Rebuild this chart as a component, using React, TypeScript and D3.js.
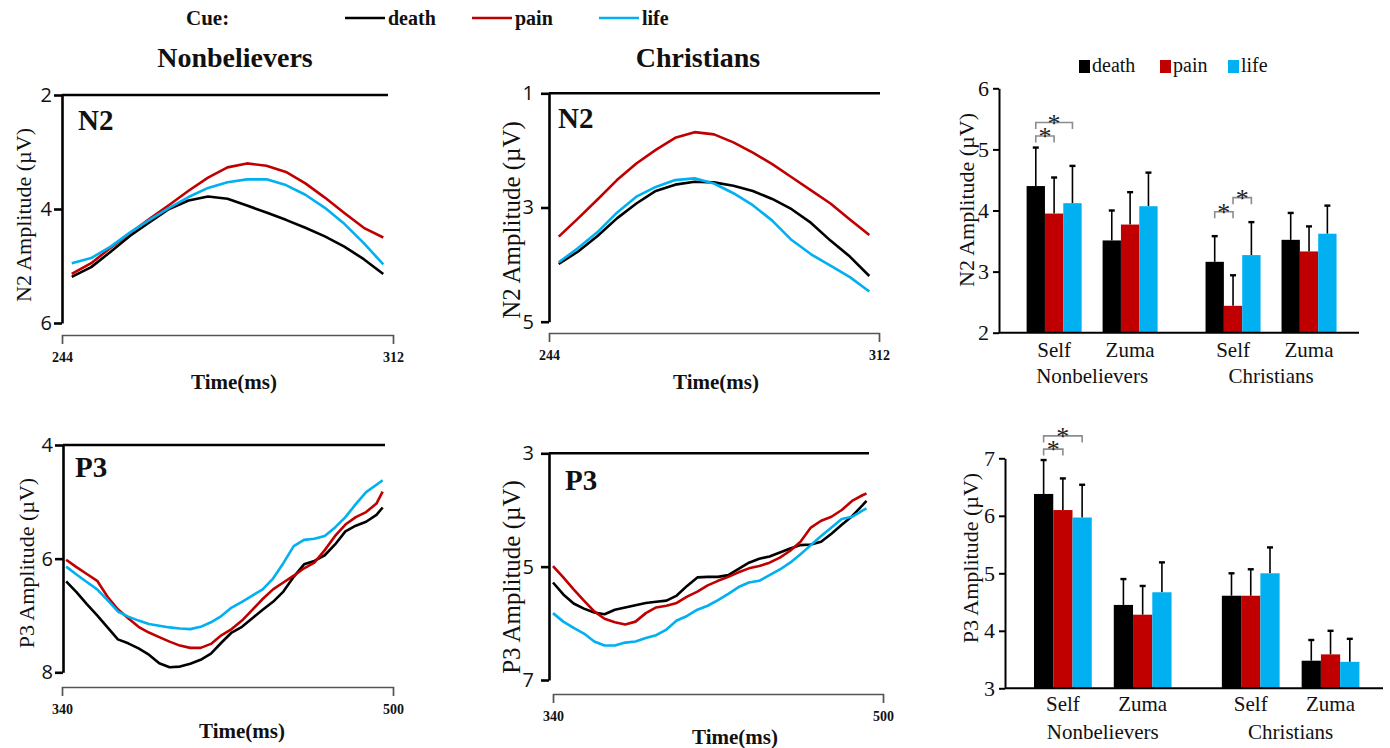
import React, { useEffect, useRef } from 'react';
import * as d3 from 'd3';

const cues = ['death', 'pain', 'life'];
const cueColors: Record<string, string> = { death: '#000000', pain: '#c00000', life: '#00b0f0' };

// N2 grand-average waveforms, 244-312 ms
const n2Time = [246, 250, 254, 258, 262, 266, 270, 274, 278, 282, 286, 290, 294, 298, 302, 306, 310];
const n2NonDeath = [5.19, 5.02, 4.75, 4.47, 4.23, 4.0, 3.85, 3.78, 3.82, 3.94, 4.06, 4.19, 4.33, 4.48, 4.66, 4.88, 5.14];
const n2NonPain = [5.14, 4.95, 4.68, 4.42, 4.17, 3.93, 3.68, 3.45, 3.27, 3.2, 3.24, 3.35, 3.55, 3.8, 4.07, 4.33, 4.5];
const n2NonLife = [4.95, 4.86, 4.66, 4.41, 4.19, 3.98, 3.79, 3.63, 3.53, 3.48, 3.48, 3.58, 3.75, 3.98, 4.26, 4.6, 4.97];
const n2ChrDeath = [3.99, 3.77, 3.5, 3.19, 2.93, 2.71, 2.6, 2.55, 2.56, 2.62, 2.71, 2.85, 3.03, 3.27, 3.58, 3.86, 4.2];
const n2ChrPain = [3.51, 3.19, 2.86, 2.52, 2.23, 1.99, 1.78, 1.68, 1.72, 1.86, 2.04, 2.24, 2.47, 2.7, 2.93, 3.21, 3.48];
const n2ChrLife = [3.96, 3.71, 3.43, 3.09, 2.81, 2.64, 2.52, 2.49, 2.58, 2.75, 2.96, 3.23, 3.57, 3.82, 4.02, 4.22, 4.47];

// P3 grand-average waveforms, 340-500 ms
const p3NonTime = [342, 347, 352, 357, 362, 367, 372, 377, 382, 387, 392, 397, 402, 407, 412, 417, 422, 427, 432, 437, 442, 447, 452, 457, 462, 467, 472, 477, 482, 487, 492, 495];
const p3NonDeath = [6.4, 6.59, 6.8, 7.0, 7.21, 7.42, 7.49, 7.58, 7.69, 7.84, 7.91, 7.9, 7.85, 7.78, 7.67, 7.48, 7.3, 7.2, 7.05, 6.9, 6.76, 6.58, 6.32, 6.1, 6.04, 5.94, 5.75, 5.52, 5.42, 5.35, 5.23, 5.1];
const p3NonPain = [6.02, 6.15, 6.27, 6.39, 6.67, 6.89, 7.05, 7.2, 7.3, 7.38, 7.46, 7.53, 7.57, 7.57, 7.5, 7.35, 7.24, 7.09, 6.9, 6.71, 6.54, 6.42, 6.3, 6.17, 6.07, 5.85, 5.6, 5.4, 5.27, 5.18, 5.03, 4.82];
const p3NonLife = [6.14, 6.28, 6.41, 6.54, 6.73, 6.93, 7.02, 7.09, 7.15, 7.18, 7.21, 7.23, 7.24, 7.2, 7.12, 7.01, 6.86, 6.76, 6.65, 6.54, 6.35, 6.08, 5.78, 5.67, 5.65, 5.6, 5.45, 5.27, 5.04, 4.83, 4.7, 4.62];
const p3ChrTime = [340, 345, 350, 355, 360, 365, 370, 375, 380, 385, 390, 395, 400, 405, 410, 415, 420, 425, 430, 435, 440, 445, 450, 455, 460, 465, 470, 475, 480, 485, 490, 492];
const p3ChrDeath = [5.28, 5.49, 5.65, 5.74, 5.81, 5.84, 5.76, 5.72, 5.68, 5.64, 5.62, 5.6, 5.51, 5.34, 5.19, 5.18, 5.18, 5.15, 5.04, 4.93, 4.86, 4.82, 4.75, 4.68, 4.62, 4.61, 4.56, 4.42, 4.26, 4.11, 3.92, 3.84];
const p3ChrPain = [4.99, 5.19, 5.4, 5.6, 5.79, 5.92, 5.98, 6.02, 5.97, 5.82, 5.72, 5.69, 5.64, 5.53, 5.44, 5.33, 5.25, 5.18, 5.1, 5.03, 4.99, 4.93, 4.84, 4.72, 4.56, 4.31, 4.19, 4.12, 4.0, 3.84, 3.74, 3.71];
const p3ChrLife = [5.82, 5.97, 6.08, 6.18, 6.32, 6.39, 6.39, 6.34, 6.32, 6.26, 6.21, 6.11, 5.95, 5.87, 5.76, 5.69, 5.59, 5.48, 5.36, 5.28, 5.25, 5.15, 5.05, 4.93, 4.78, 4.62, 4.46, 4.31, 4.16, 4.12, 4.01, 3.97];

// mean amplitudes, order: Nonbelievers-Self, Nonbelievers-Zuma, Christians-Self, Christians-Zuma
const groups = ['Nonbelievers', 'Christians'];
const conditions = ['Self', 'Zuma'];
const n2BarDeath = [4.4, 3.51, 3.16, 3.52];
const n2BarPain = [3.95, 3.77, 2.44, 3.33];
const n2BarLife = [4.12, 4.07, 3.27, 3.62];
const n2ErrDeath = [0.63, 0.49, 0.42, 0.44];
const n2ErrPain = [0.59, 0.53, 0.5, 0.41];
const n2ErrLife = [0.61, 0.55, 0.54, 0.46];
const p3BarDeath = [6.38, 4.45, 4.61, 3.48];
const p3BarPain = [6.1, 4.28, 4.61, 3.59];
const p3BarLife = [5.97, 4.67, 5.0, 3.46];
const p3ErrDeath = [0.59, 0.45, 0.39, 0.36];
const p3ErrPain = [0.55, 0.5, 0.46, 0.41];
const p3ErrLife = [0.57, 0.52, 0.45, 0.4];

const n2Sig = [
  { group: 'Nonbelievers', cond: 'Self', a: 'death', b: 'pain', level: 5.22 },
  { group: 'Nonbelievers', cond: 'Self', a: 'death', b: 'life', level: 5.44 },
  { group: 'Christians', cond: 'Self', a: 'death', b: 'pain', level: 3.98 },
  { group: 'Christians', cond: 'Self', a: 'pain', b: 'life', level: 4.21 },
];
const p3Sig = [
  { group: 'Nonbelievers', cond: 'Self', a: 'death', b: 'pain', level: 7.16 },
  { group: 'Nonbelievers', cond: 'Self', a: 'death', b: 'life', level: 7.39 },
];

const SERIF = "'Liberation Serif', 'Times New Roman', serif";
const SANS = "'Open Sans', 'Liberation Sans', sans-serif";
const intFmt = d3.format('d');

function D3Axis({ axis, transform, style }: any) {
  const ref = useRef<SVGGElement>(null);
  useEffect(() => {
    const g = d3.select(ref.current);
    g.selectAll('*').remove();
    g.call(axis);
    style(g);
  });
  return <g ref={ref} transform={transform} />;
}

const linePanels = [
  {
    time: n2Time, series: [n2NonDeath, n2NonPain, n2NonLife], ticks: [2, 4, 6], yRange: [95, 323],
    axisX: 62, lineEnd: 388, xDomain: [244, 312], xRange: [62, 393], xAxisY: 335, tickPad: 2,
    title: 'N2', titleX: 78, titleY: 130, label: 'N2 Amplitude (µV)', labelX: 31, labelY: 215, labelSize: 22,
    timeX: 234, timeY: 389,
  },
  {
    time: n2Time, series: [n2ChrDeath, n2ChrPain, n2ChrLife], ticks: [1, 3, 5], yRange: [93.3, 321.7],
    axisX: 549, lineEnd: 880, xDomain: [244, 312], xRange: [549, 879], xAxisY: 333, tickPad: 7,
    title: 'N2', titleX: 558, titleY: 128, label: 'N2 Amplitude (µV)', labelX: 520, labelY: 220, labelSize: 25,
    timeX: 716, timeY: 389,
  },
  {
    time: p3NonTime, series: [p3NonDeath, p3NonPain, p3NonLife], ticks: [4, 6, 8], yRange: [445, 672.3],
    axisX: 63, lineEnd: 385, xDomain: [340, 500], xRange: [62, 393], xAxisY: 687, tickPad: 2,
    title: 'P3', titleX: 75, titleY: 477, label: 'P3 Amplitude (µV)', labelX: 34, labelY: 563, labelSize: 22,
    timeX: 242, timeY: 738,
  },
  {
    time: p3ChrTime, series: [p3ChrDeath, p3ChrPain, p3ChrLife], ticks: [3, 5, 7], yRange: [453.3, 680],
    axisX: 549, lineEnd: 869, xDomain: [340, 500], xRange: [553, 883], xAxisY: 694, tickPad: 7,
    title: 'P3', titleX: 565, titleY: 490, label: 'P3 Amplitude (µV)', labelX: 520, labelY: 577, labelSize: 25,
    timeX: 735, timeY: 744,
  },
];

function LinePanel({ p }: any) {
  const x = d3.scaleLinear().domain(p.xDomain).range(p.xRange);
  const y = d3.scaleLinear().domain([p.ticks[0], p.ticks[p.ticks.length - 1]]).range(p.yRange);
  const yAxis = d3.axisLeft(y).tickValues(p.ticks).tickFormat(intFmt as any).tickSize(8).tickSizeOuter(0).tickPadding(p.tickPad);
  const xAxis = d3.axisBottom(x).tickValues(p.xDomain).tickFormat(intFmt as any).tickSize(9).tickSizeOuter(9).tickPadding(8);
  return (
    <g>
      {p.series.map((s: number[], i: number) => {
        const line = d3.line<number>().x((_, j) => x(p.time[j])).y((d) => y(d));
        return <path key={i} d={line(s) || ''} fill="none" stroke={cueColors[cues[i]]} strokeWidth={2.6} strokeLinejoin="round" />;
      })}
      <line x1={p.axisX} x2={p.lineEnd} y1={y(p.ticks[0])} y2={y(p.ticks[0])} stroke="#000" strokeWidth={2.6} />
      <D3Axis axis={yAxis} transform={`translate(${p.axisX},0)`} style={(g: any) => {
        g.attr('font-family', null).attr('font-size', null);
        g.select('.domain').attr('stroke', '#000').attr('stroke-width', 2.6);
        g.selectAll('.tick line').attr('stroke', '#000').attr('stroke-width', 2.6);
        g.selectAll('.tick text').attr('font-family', SANS).attr('font-size', 20).attr('fill', '#111');
      }} />
      <D3Axis axis={xAxis} transform={`translate(0,${p.xAxisY})`} style={(g: any) => {
        g.attr('font-family', null).attr('font-size', null);
        g.select('.domain').attr('stroke', '#555').attr('stroke-width', 1.4);
        g.selectAll('.tick line').attr('stroke', '#555').attr('stroke-width', 1.4);
        g.selectAll('.tick text').attr('font-family', SERIF).attr('font-size', 14).attr('font-weight', 'bold').attr('fill', '#111');
      }} />
      <text x={p.titleX} y={p.titleY} fontFamily={SERIF} fontWeight="bold" fontSize={29} fill="#111">{p.title}</text>
      <text transform={`translate(${p.labelX},${p.labelY}) rotate(-90)`} textAnchor="middle" fontFamily={SERIF} fontSize={p.labelSize} fill="#111">{p.label}</text>
      <text x={p.timeX} y={p.timeY} textAnchor="middle" fontFamily={SERIF} fontWeight="bold" fontSize={21} fill="#111">Time(ms)</text>
    </g>
  );
}

const barPanels = [
  {
    values: { death: n2BarDeath, pain: n2BarPain, life: n2BarLife },
    errors: { death: n2ErrDeath, pain: n2ErrPain, life: n2ErrLife },
    sig: n2Sig, domain: [2, 6], ticks: [2, 3, 4, 5, 6], yRange: [332.7, 88.3], xRange: [999, 1359],
    label: 'N2 Amplitude (µV)', labelX: 974, labelY: 200, condY: 357, groupY: 383, legend: true,
  },
  {
    values: { death: p3BarDeath, pain: p3BarPain, life: p3BarLife },
    errors: { death: p3ErrDeath, pain: p3ErrPain, life: p3ErrLife },
    sig: p3Sig, domain: [3, 7], ticks: [3, 4, 5, 6, 7], yRange: [688.3, 458.3], xRange: [1005, 1383],
    label: 'P3 Amplitude (µV)', labelX: 978, labelY: 558, condY: 711, groupY: 739, legend: false,
  },
];

const barLegendX = [1079, 1160, 1228];

function BarPanel({ p }: any) {
  const y = d3.scaleLinear().domain(p.domain).range(p.yRange);
  const x0 = d3.scaleBand().domain(groups).range(p.xRange).paddingInner(0.168).paddingOuter(0.09).align(0.58);
  const x1 = d3.scaleBand().domain(conditions).range([0, x0.bandwidth()]).paddingInner(0.276).paddingOuter(0.1175);
  const x2 = d3.scaleBand().domain(cues).range([0, x1.bandwidth()]);
  const yAxis = d3.axisLeft(y).tickValues(p.ticks).tickFormat(intFmt as any).tickSize(6).tickSizeOuter(0).tickPadding(4);
  const cx = (g: string, c: string, cue: string) => (x0(g) as number) + (x1(c) as number) + (x2(cue) as number) + x2.bandwidth() / 2;
  const base = y(p.domain[0]);
  return (
    <g>
      {groups.map((g, gi) => conditions.map((c, ci) => {
        const idx = gi * conditions.length + ci;
        return cues.map((cue) => {
          const v = p.values[cue][idx];
          const e = p.errors[cue][idx];
          const mx = cx(g, c, cue);
          return (
            <g key={`${g}-${c}-${cue}`}>
              <line x1={mx} x2={mx} y1={y(v)} y2={y(v + e)} stroke="#000" strokeWidth={1.6} />
              <line x1={mx - 3} x2={mx + 3} y1={y(v + e)} y2={y(v + e)} stroke="#000" strokeWidth={2.4} />
              <rect x={(x0(g) as number) + (x1(c) as number) + (x2(cue) as number)} y={y(v)} width={x2.bandwidth()} height={base - y(v)} fill={cueColors[cue]} />
            </g>
          );
        });
      }))}
      {p.sig.map((s: any, i: number) => {
        const xa = cx(s.group, s.cond, s.a);
        const xb = cx(s.group, s.cond, s.b);
        const yy = y(s.level);
        return (
          <g key={i}>
            <path d={`M${xa},${yy + 6.5}V${yy}H${xb}V${yy + 6.5}`} fill="none" stroke="#8c8c8c" strokeWidth={1.6} />
            <text x={(xa + xb) / 2} y={yy + 9} textAnchor="middle" fontFamily={SERIF} fontSize={26} fill="#222">*</text>
          </g>
        );
      })}
      <line x1={p.xRange[0]} x2={p.xRange[1]} y1={base} y2={base} stroke="#000" strokeWidth={2} />
      <D3Axis axis={yAxis} transform={`translate(${p.xRange[0]},0)`} style={(g: any) => {
        g.attr('font-family', null).attr('font-size', null);
        g.select('.domain').attr('stroke', '#000').attr('stroke-width', 2);
        g.selectAll('.tick line').attr('stroke', '#000').attr('stroke-width', 2);
        g.selectAll('.tick text').attr('font-family', SERIF).attr('font-size', 22).attr('fill', '#111');
      }} />
      {groups.map((g) => conditions.map((c) => (
        <text key={`${g}-${c}`} x={(x0(g) as number) + (x1(c) as number) + x1.bandwidth() / 2} y={p.condY} textAnchor="middle" fontFamily={SERIF} fontSize={21} fill="#111">{c}</text>
      )))}
      {groups.map((g) => (
        <text key={g} x={(x0(g) as number) + x0.bandwidth() / 2} y={p.groupY} textAnchor="middle" fontFamily={SERIF} fontSize={21} fill="#111">{g}</text>
      ))}
      <text transform={`translate(${p.labelX},${p.labelY}) rotate(-90)`} textAnchor="middle" fontFamily={SERIF} fontSize={22} fill="#111">{p.label}</text>
      {p.legend && cues.map((cue, i) => (
        <g key={cue}>
          <rect x={barLegendX[i]} y={60} width={11} height={13} fill={cueColors[cue]} />
          <text x={barLegendX[i] + 13} y={72} fontFamily={SERIF} fontSize={20} fill="#111">{cue}</text>
        </g>
      ))}
    </g>
  );
}

export default function App() {
  return (
    <svg width={1390} height={748} style={{ position: 'absolute', left: 0, top: 0, background: '#fff' }}>
      <text x={186} y={25} fontFamily={SERIF} fontWeight="bold" fontSize={21} fill="#111">Cue:</text>
      {cues.map((cue, i) => (
        <g key={cue}>
          <line x1={345 + 127 * i} x2={385 + 127 * i} y1={18} y2={18} stroke={cueColors[cue]} strokeWidth={2.4} />
          <text x={388 + 127 * i} y={25} fontFamily={SERIF} fontWeight="bold" fontSize={20} fill="#111">{cue}</text>
        </g>
      ))}
      <text x={235} y={67} textAnchor="middle" fontFamily={SERIF} fontWeight="bold" fontSize={28} fill="#111">Nonbelievers</text>
      <text x={698} y={67} textAnchor="middle" fontFamily={SERIF} fontWeight="bold" fontSize={28} fill="#111">Christians</text>
      {linePanels.map((p, i) => <LinePanel key={i} p={p} />)}
      {barPanels.map((p, i) => <BarPanel key={i} p={p} />)}
    </svg>
  );
}
